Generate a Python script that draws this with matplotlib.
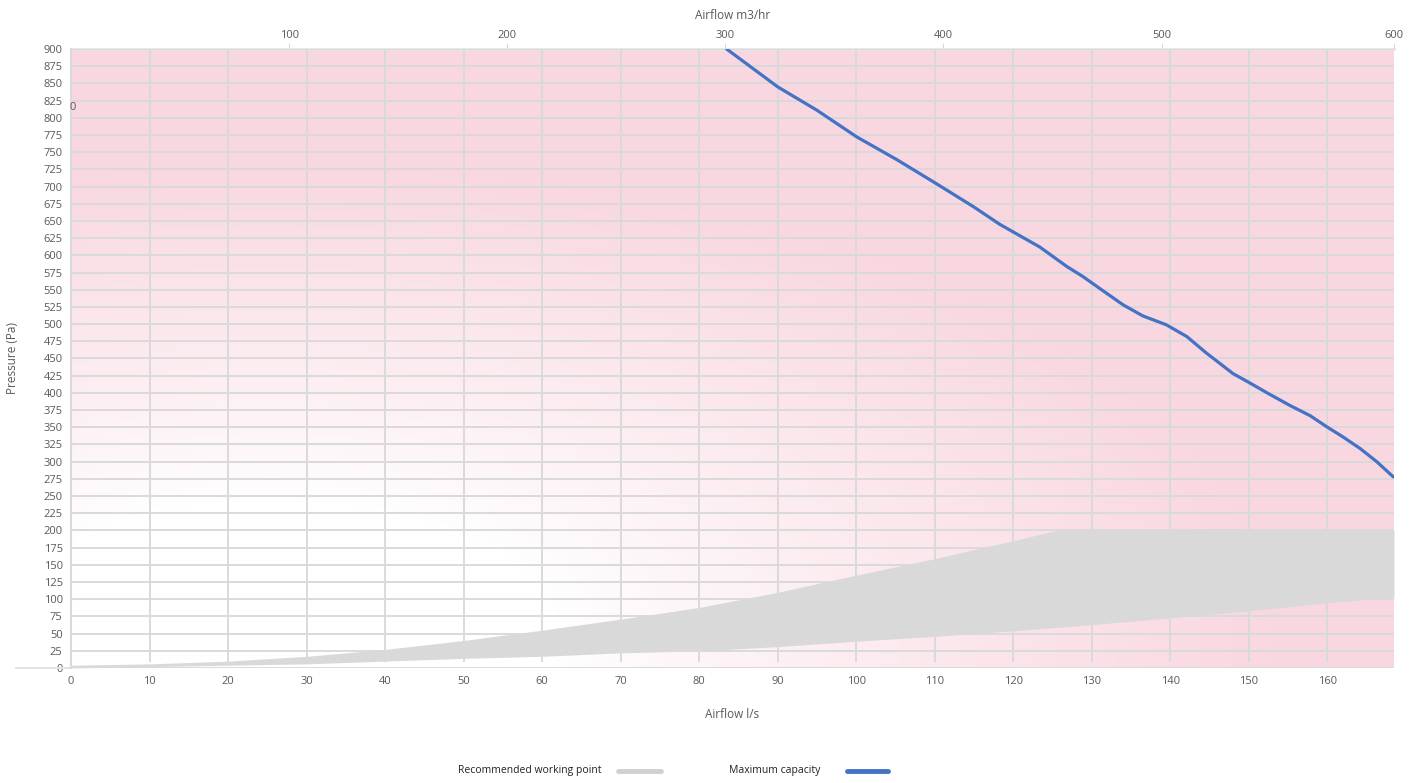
import numpy as np
import matplotlib
matplotlib.use('Agg')
import matplotlib.pyplot as plt
from matplotlib.lines import Line2D

plt.rcParams['font.family'] = ['Open Sans', 'DejaVu Sans']

# maximum capacity curve (l/s, Pa)
cap_flow = [83.5, 90.0, 95.0, 100.1, 105.2, 110.1, 114.9, 118.3, 120.0, 123.4, 126.8, 128.9,
            131.0, 134.0, 136.5, 139.5, 142.1, 144.6, 148.0, 149.9, 152.5, 155.2, 157.8,
            159.9, 162.0, 164.2, 166.3, 168.4]
cap_pres = [900, 845, 811, 772, 739, 705, 671, 645, 634, 612, 584, 569,
            552, 528, 512, 499, 482, 458, 428, 416, 399, 382, 367,
            351, 336, 319, 300, 278]

# recommended working area (l/s, lower Pa, upper Pa)
rec_flow = [0, 10, 20, 30, 40, 50, 60, 70, 80, 90, 100, 110, 120, 125.5, 130, 140, 150, 160, 168.5]
rec_low = [0, 2, 4, 6, 10, 14, 17, 22, 25, 31, 39, 46, 54, 59, 63, 73, 83, 95, 103]
rec_high = [4, 6, 10, 17, 27, 40, 55, 71, 88, 110, 135, 159, 185, 200, 200, 200, 200, 200, 200]

xticks_ls = list(range(0, 170, 10))
yticks_pa = list(range(0, 925, 25))
top_ticks = [100, 200, 300, 400, 500, 600]

xmax = 168.5
ymax = 900

fig = plt.figure(figsize=(14.13, 7.83), dpi=100)
ax = fig.add_axes([71/1413, 1-668/783, (1394-71)/1413, (668-49)/783])

# pink / white gradient background
gx, gy = np.meshgrid(np.linspace(0, 1, 300), np.linspace(0, 1, 200))
d = np.sqrt((gx - 0.15) ** 2 + (gy - 0.05) ** 2)
t = np.clip((d - 0.22) / 0.55, 0, 1) ** 0.85
white = np.array([1.0, 1.0, 1.0])
pink = np.array([249, 215, 224]) / 255.
img = white[None, None, :] * (1 - t[..., None]) + pink[None, None, :] * t[..., None]
ax.imshow(img, extent=[0, xmax, 0, ymax], origin='lower', aspect='auto', zorder=0)

for yv in yticks_pa:
    ax.axhline(yv, color='#dadada', lw=1.4, zorder=1)
for xv in xticks_ls[1:]:
    ax.plot([xv, xv], [10, ymax], color='#dadada', lw=1.4, zorder=1)
ax.plot([-7, 0], [0, 0], color='#e3e3e3', lw=1.4, clip_on=False)

ax.fill_between(rec_flow, rec_low, rec_high, color='#d9d9d9', lw=0, zorder=2)
ax.plot(cap_flow, cap_pres, color='#4472c4', lw=2.3, zorder=3,
        solid_capstyle='round', solid_joinstyle='round')

ax.set_xlim(0, xmax)
ax.set_ylim(0, ymax)
ax.set_xticks(xticks_ls)
ax.set_yticks(yticks_pa)
ax.tick_params(length=0, labelsize=8, labelcolor='#595959', pad=6)
for s in ['top', 'right', 'bottom']:
    ax.spines[s].set_visible(False)
ax.spines['left'].set_color('#d9d9d9')
ax.spines['left'].set_linewidth(1.5)
ax.set_xlabel('Airflow l/s', fontsize=8.5, color='#595959', labelpad=15)
ax.set_ylabel('Pressure (Pa)', fontsize=8.5, color='#595959', labelpad=18)

top = ax.secondary_xaxis('top', functions=(lambda v: v * 3.6, lambda v: v / 3.6))
top.set_xticks(top_ticks[:-1] + [xmax * 3.6])
top.set_xticklabels([str(v) for v in top_ticks])
top.tick_params(length=4, color='#d9d9d9', labelsize=8, labelcolor='#595959', pad=2)
top.spines['top'].set_color('#e6e6e6')
top.spines['top'].set_linewidth(2)
top.set_xlabel('Airflow m3/hr', fontsize=8.5, color='#595959', labelpad=8)
fig.text(69/1413, 1-108/783, '0', fontsize=8, color='#595959', va='center')

# legend
fig.text(458/1413, 1-771/783, 'Recommended working point', fontsize=7.5, color='#222222', va='center')
fig.add_artist(Line2D([618/1413, 661/1413], [1-771/783]*2, color='#d0d0d0', lw=3.5, solid_capstyle='round'))
fig.text(729/1413, 1-771/783, 'Maximum capacity', fontsize=7.5, color='#222222', va='center')
fig.add_artist(Line2D([847/1413, 888/1413], [1-771/783]*2, color='#4472c4', lw=3.5, solid_capstyle='round'))

plt.savefig('out.png', dpi=100)
plt.close()
